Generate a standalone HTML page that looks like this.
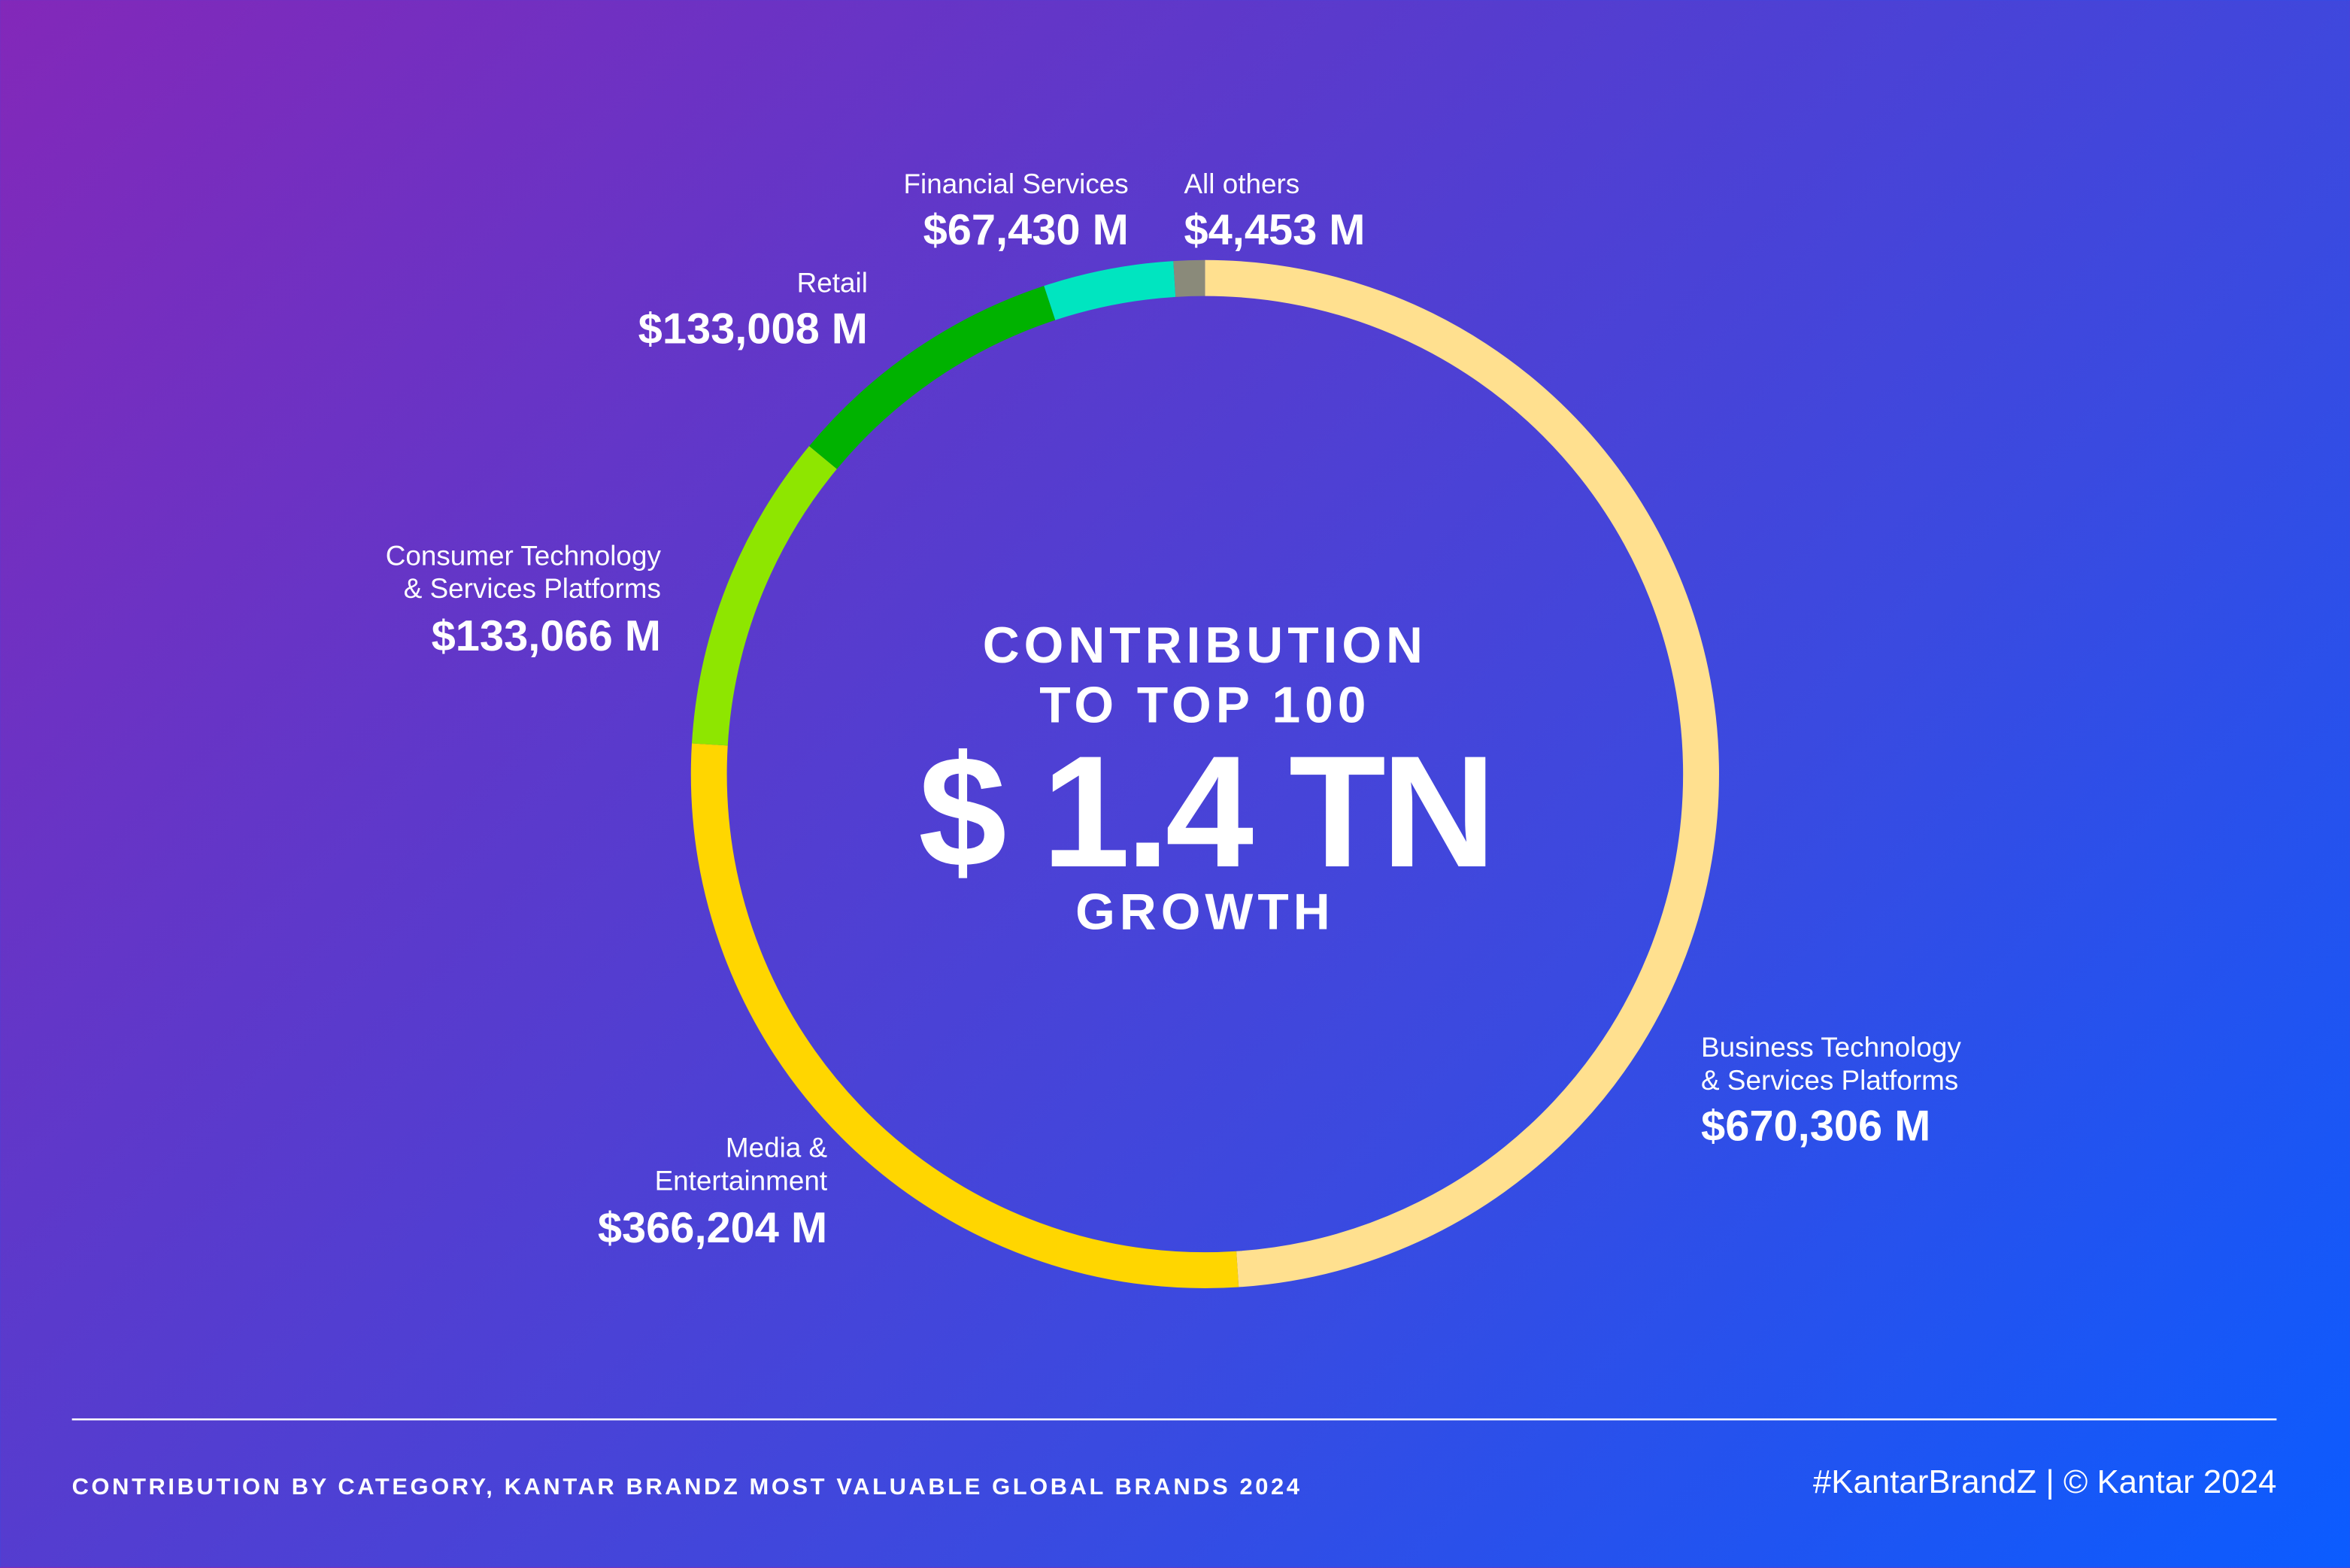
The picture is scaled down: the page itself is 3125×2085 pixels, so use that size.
<!DOCTYPE html>
<html><head><meta charset="utf-8">
<style>
html,body{margin:0;padding:0;}
body{width:3125px;height:2084px;overflow:hidden;background:linear-gradient(135deg,#8328b9 0%,#5a3acc 35%,#3a4ae0 65%,#0b5cff 100%);font-family:"Liberation Sans",sans-serif;color:#fff;}
#s{position:absolute;left:0;top:0;width:1568px;height:1046px;transform:scale(1.993);transform-origin:0 0;}
.t{position:absolute;white-space:nowrap;}
.l{font-size:18.5px;line-height:22px;font-weight:300;}
.v{font-size:29px;line-height:32px;font-weight:bold;}
.r{text-align:right;}
.c{text-align:center;width:600px;left:504px;font-weight:bold;}
</style></head><body>
<div id="s">
<svg width="1568" height="1046" style="position:absolute;left:0;top:0">
<g transform="rotate(-90 804 516.5)">
<circle cx="804" cy="516.5" r="331" fill="none" stroke-width="24" stroke="#ffe08f" stroke-dasharray="1018 2080" stroke-dashoffset="0"/>
<circle cx="804" cy="516.5" r="331" fill="none" stroke-width="24" stroke="#ffd600" stroke-dasharray="561.5 2080" stroke-dashoffset="-1018"/>
<circle cx="804" cy="516.5" r="331" fill="none" stroke-width="24" stroke="#8ee600" stroke-dasharray="209.2 2080" stroke-dashoffset="-1579.5"/>
<circle cx="804" cy="516.5" r="331" fill="none" stroke-width="24" stroke="#00b200" stroke-dasharray="185.4 2080" stroke-dashoffset="-1788.7"/>
<circle cx="804" cy="516.5" r="331" fill="none" stroke-width="24" stroke="#00e5c0" stroke-dasharray="85 2080" stroke-dashoffset="-1974.1"/>
<circle cx="804" cy="516.5" r="331" fill="none" stroke-width="24" stroke="#8a8a7a" stroke-dasharray="20.7 2080" stroke-dashoffset="-2059.1"/>
</g>
<line x1="48" y1="947" x2="1519" y2="947" stroke="#fff" stroke-width="1.2"/>
</svg>
<div class="t l r" style="right:815px;top:112px">Financial Services</div>
<div class="t v r" style="right:815px;top:138px">$67,430 M</div>
<div class="t l" style="left:790px;top:112px">All others</div>
<div class="t v" style="left:790px;top:138px">$4,453 M</div>
<div class="t l r" style="right:989px;top:178px">Retail</div>
<div class="t v r" style="right:989px;top:204px">$133,008 M</div>
<div class="t l r" style="right:1127px;top:360px">Consumer Technology<br>&amp; Services Platforms</div>
<div class="t v r" style="right:1127px;top:409px">$133,066 M</div>
<div class="t l r" style="right:1016px;top:755px">Media &amp;<br>Entertainment</div>
<div class="t v r" style="right:1016px;top:804px">$366,204 M</div>
<div class="t l" style="left:1135px;top:688px">Business Technology<br>&amp; Services Platforms</div>
<div class="t v" style="left:1135px;top:736px">$670,306 M</div>
<div class="t c" style="top:411px;font-size:34px;line-height:40px;letter-spacing:3px">CONTRIBUTION</div>
<div class="t c" style="top:451px;font-size:34px;line-height:40px;letter-spacing:3px">TO TOP 100</div>
<div class="t c" style="top:480px;font-size:106px;line-height:124px;letter-spacing:-3px">$ 1.4 TN</div>
<div class="t c" style="top:589px;font-size:34px;line-height:40px;letter-spacing:3px">GROWTH</div>
<div class="t" style="left:48px;top:983px;font-size:15.5px;line-height:20px;font-weight:bold;letter-spacing:1.8px">CONTRIBUTION BY CATEGORY, KANTAR BRANDZ MOST VALUABLE GLOBAL BRANDS 2024</div>
<div class="t r" style="right:49px;top:976px;font-size:22px;line-height:26px">#KantarBrandZ | © Kantar 2024</div>
</div>
</body></html>
